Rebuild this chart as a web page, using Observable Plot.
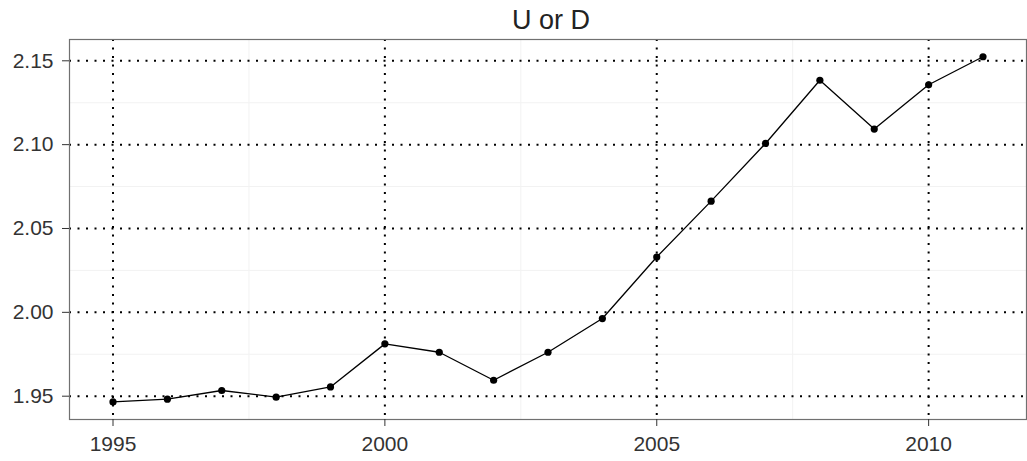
<!DOCTYPE html>
<html>
<head>
<meta charset="utf-8">
<script src="https://cdn.jsdelivr.net/npm/d3@7"></script>
<script src="https://cdn.jsdelivr.net/npm/@observablehq/plot@0.6"></script>
<style>
  html, body { margin: 0; padding: 0; background: #fff; }
  #chart svg { display: block; }
</style>
</head>
<body>
<div id="chart"></div>
<script>
const title = "U or D";
const years = [1995, 1996, 1997, 1998, 1999, 2000, 2001, 2002, 2003, 2004, 2005, 2006, 2007, 2008, 2009, 2010, 2011];
const values = [1.9466, 1.9482, 1.9534, 1.9494, 1.9555, 1.9812, 1.9762, 1.9595, 1.9762, 1.9963, 2.0330, 2.0663, 2.1007, 2.1384, 2.1093, 2.1357, 2.1524];
const xTicks = [1995, 2000, 2005, 2010];
const xMinor = [1997.5, 2002.5, 2007.5];
const yTicks = [1.95, 2.00, 2.05, 2.10, 2.15];
const yMinor = [1.975, 2.025, 2.075, 2.125];

const data = years.map((y, i) => ({year: y, value: values[i]}));

const dotted = {stroke: "#000", strokeOpacity: 1, strokeWidth: 2, strokeDasharray: "2,6.5"};

const chart = Plot.plot({
  width: 1027,
  height: 461,
  marginLeft: 69,
  marginRight: 1,
  marginTop: 39,
  marginBottom: 42,
  style: {fontFamily: "Liberation Sans, Arial, sans-serif", background: "#fff"},
  x: {domain: [1994.2, 2011.8]},
  y: {domain: [1.9361, 2.1627]},
  marks: [
    Plot.gridX(xMinor, {stroke: "#f2f2f2", strokeOpacity: 1, strokeWidth: 1}),
    Plot.gridY(yMinor, {stroke: "#f2f2f2", strokeOpacity: 1, strokeWidth: 1}),
    Plot.gridX(xTicks, dotted),
    Plot.gridY(yTicks, dotted),
    Plot.frame({stroke: "#707070", strokeWidth: 1.2}),
    Plot.axisX(xTicks, {tickSize: 7, tickPadding: 10, tickFormat: d => String(d), fontSize: 21, color: "#333", stroke: "#333", label: null}),
    Plot.axisY(yTicks, {tickSize: 7, tickPadding: 9, tickFormat: d3.format(".2f"), fontSize: 21, color: "#333", stroke: "#333", label: null}),
    Plot.line(data, {x: "year", y: "value", stroke: "#000", strokeWidth: 1.3}),
    Plot.dot(data, {x: "year", y: "value", r: 3.6, fill: "#000", stroke: "none"}),
    Plot.text([title], {frameAnchor: "top", lineAnchor: "bottom", dy: -11, dx: 3, text: d => d, fontSize: 27, fill: "#222"})
  ]
});
document.getElementById("chart").appendChild(chart);
</script>
</body>
</html>
